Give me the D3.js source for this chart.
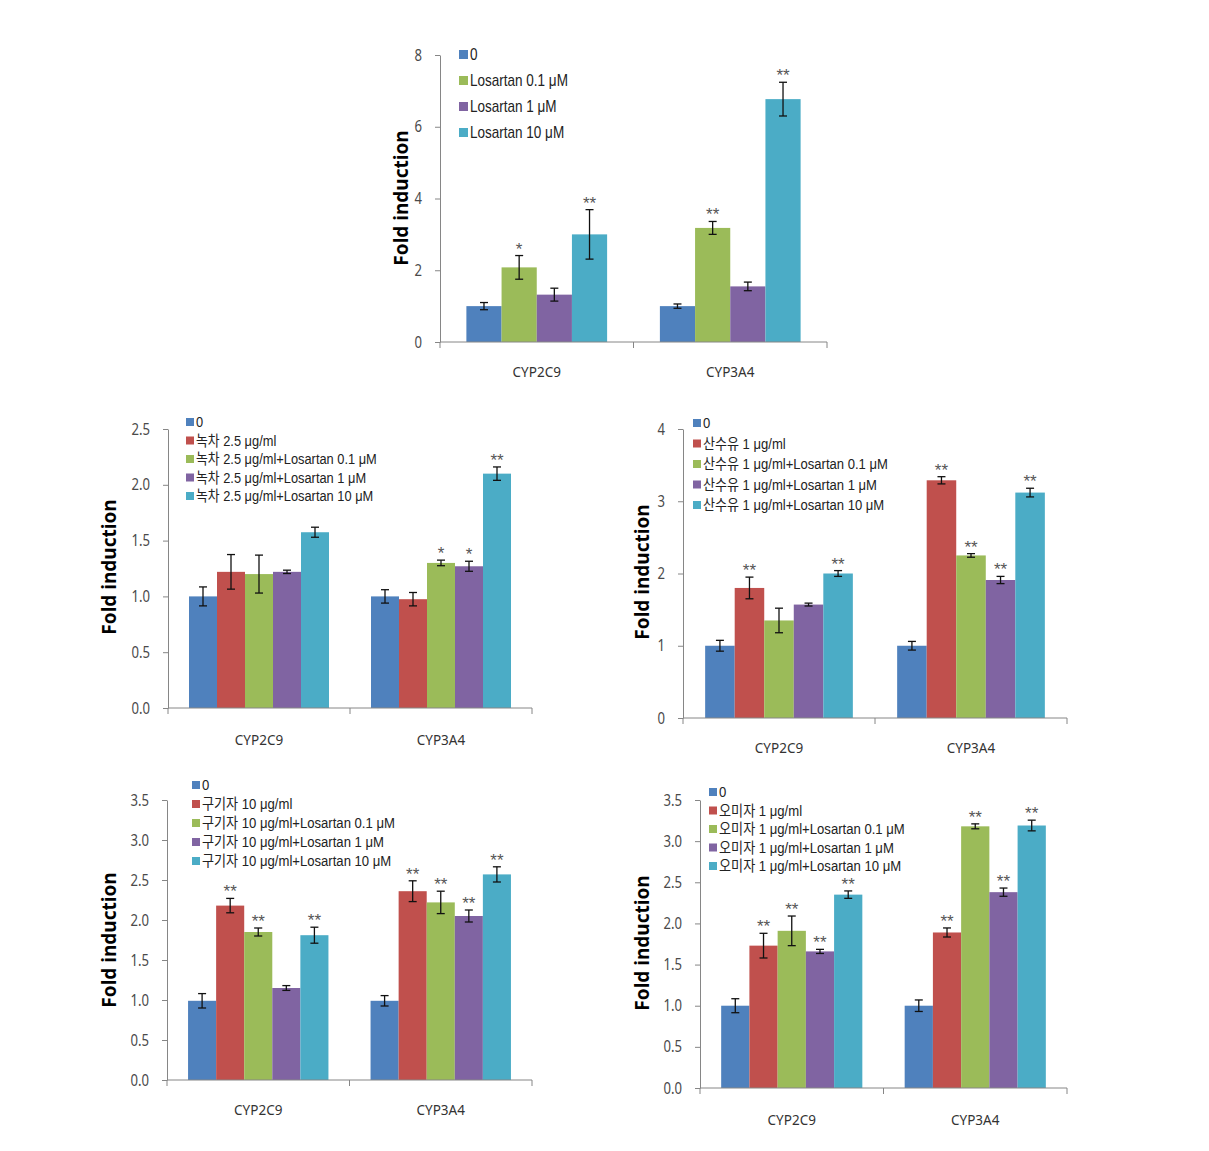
<!DOCTYPE html>
<html><head><meta charset="utf-8">
<script src="https://cdn.jsdelivr.net/npm/d3@7"></script>
<style>body{margin:0;background:#fff}</style>
</head><body><svg id="c" width="1209" height="1151"></svg>
<script>
const categories = ["CYP2C9", "CYP3A4"];
const palette = ["#4F81BD", "#C0504D", "#9BBB59", "#8064A2", "#4BACC6"];
const yAxisTitle = "Fold induction";

// Panel A: Losartan alone
const seriesA = ["0", "Losartan 0.1 μM", "Losartan 1 μM", "Losartan 10 μM"];
const colorIdxA = [0, 2, 3, 4];
const valuesA = [[1.00, 2.08, 1.32, 3.00], [1.00, 3.18, 1.55, 6.77]];
const errorsA = [[0.10, 0.33, 0.18, 0.69], [0.06, 0.18, 0.12, 0.47]];
const sigA = [["", "*", "", "**"], ["", "**", "", "**"]];
const ticksA = [0, 2, 4, 6, 8];

// Panel B: 녹차
const seriesB = ["0", "녹차 2.5 μg/ml", "녹차 2.5 μg/ml+Losartan 0.1 μM", "녹차 2.5 μg/ml+Losartan 1 μM", "녹차 2.5 μg/ml+Losartan 10 μM"];
const valuesB = [[1.00, 1.22, 1.20, 1.22, 1.575], [1.00, 0.975, 1.30, 1.27, 2.10]];
const errorsB = [[0.085, 0.155, 0.17, 0.015, 0.045], [0.06, 0.06, 0.025, 0.045, 0.06]];
const sigB = [["", "", "", "", ""], ["", "", "*", "*", "**"]];
const ticksB = [0, 0.5, 1.0, 1.5, 2.0, 2.5];

// Panel C: 산수유
const seriesC = ["0", "산수유 1 μg/ml", "산수유 1 μg/ml+Losartan 0.1 μM", "산수유 1 μg/ml+Losartan 1 μM", "산수유 1 μg/ml+Losartan 10 μM"];
const valuesC = [[1.00, 1.80, 1.35, 1.57, 2.00], [1.00, 3.29, 2.25, 1.91, 3.12]];
const errorsC = [[0.075, 0.15, 0.17, 0.02, 0.04], [0.06, 0.05, 0.025, 0.05, 0.06]];
const sigC = [["", "**", "", "", "**"], ["", "**", "**", "**", "**"]];
const ticksC = [0, 1, 2, 3, 4];

// Panel D: 구기자
const seriesD = ["0", "구기자 10 μg/ml", "구기자 10 μg/ml+Losartan 0.1 μM", "구기자 10 μg/ml+Losartan 1 μM", "구기자 10 μg/ml+Losartan 10 μM"];
const valuesD = [[0.99, 2.18, 1.85, 1.15, 1.81], [0.99, 2.36, 2.22, 2.05, 2.57]];
const errorsD = [[0.09, 0.09, 0.05, 0.03, 0.10], [0.065, 0.13, 0.14, 0.075, 0.095]];
const sigD = [["", "**", "**", "", "**"], ["", "**", "**", "**", "**"]];
const ticksD = [0, 0.5, 1.0, 1.5, 2.0, 2.5, 3.0, 3.5];

// Panel E: 오미자
const seriesE = ["0", "오미자 1 μg/ml", "오미자 1 μg/ml+Losartan 0.1 μM", "오미자 1 μg/ml+Losartan 1 μM", "오미자 1 μg/ml+Losartan 10 μM"];
const valuesE = [[1.00, 1.73, 1.91, 1.66, 2.35], [1.00, 1.89, 3.18, 2.38, 3.19]];
const errorsE = [[0.085, 0.15, 0.18, 0.025, 0.045], [0.07, 0.055, 0.03, 0.05, 0.065]];
const sigE = [["", "**", "**", "**", "**"], ["", "**", "**", "**", "**"]];
const ticksE = [0, 0.5, 1.0, 1.5, 2.0, 2.5, 3.0, 3.5];

const svg = d3.select("#c");

function squeeze(sel, k) {
  sel.each(function () {
    const w = this.getComputedTextLength();
    d3.select(this).attr("textLength", w * k).attr("lengthAdjust", "spacingAndGlyphs");
  });
}

function drawPanel(p, d) {
  const g = svg.append("g");
  const x0 = d3.scaleBand().domain(categories).range([p.x0, p.x1]).padding(0);
  const n = d.series.length;
  const gap = x0.bandwidth() * 1.5 / (n + 1.5) / 2;
  const x1 = d3.scaleBand().domain(d3.range(n)).range([gap, x0.bandwidth() - gap]).padding(0);
  const y = d3.scaleLinear().domain([0, d.ticks[d.ticks.length - 1]]).range([p.yBot, p.yTop]);

  categories.forEach((c, ci) => {
    const rows = d.values[ci].map((v, si) => ({ v, e: d.errors[ci][si], s: d.sig[ci][si], si }));
    const grp = g.append("g").attr("transform", `translate(${x0(c)},0)`);
    grp.selectAll("rect").data(rows).join("rect")
      .attr("x", r => x1(r.si)).attr("width", x1.bandwidth())
      .attr("y", r => y(r.v)).attr("height", r => y(0) - y(r.v))
      .attr("fill", r => palette[d.colorIdx[r.si]]);
    const cx = r => x1(r.si) + x1.bandwidth() / 2;
    grp.selectAll("line.eb").data(rows).join("line").attr("class", "eb")
      .attr("x1", cx).attr("x2", cx).attr("y1", r => y(r.v + r.e)).attr("y2", r => y(r.v - r.e))
      .attr("stroke", "#111").attr("stroke-width", 1.3);
    ["t", "b"].forEach(k => {
      grp.selectAll("line.cap" + k).data(rows).join("line")
        .attr("class", "cap" + k)
        .attr("x1", r => cx(r) - 4).attr("x2", r => cx(r) + 4)
        .attr("y1", r => y(k === "t" ? r.v + r.e : r.v - r.e))
        .attr("y2", r => y(k === "t" ? r.v + r.e : r.v - r.e))
        .attr("stroke", "#111").attr("stroke-width", 1.3);
    });
    grp.selectAll("text.sig").data(rows.filter(r => r.s)).join("text").attr("class", "sig")
      .attr("x", cx).attr("y", r => y(r.v + r.e) - 1)
      .attr("text-anchor", "middle").attr("font-family", "Liberation Sans, Arial, sans-serif")
      .attr("font-size", 17).attr("fill", "#555").text(r => r.s);
  });

  const ya = g.append("g").attr("transform", `translate(${p.x0},0)`)
    .call(d3.axisLeft(y).tickValues(d.ticks).tickFormat(d3.format(p.fmt)).tickSize(5).tickPadding(13).tickSizeOuter(0));
  ya.select(".domain").attr("stroke", "#868686");
  ya.selectAll(".tick line").attr("stroke", "#868686");
  ya.selectAll(".tick text").attr("font-family", "Noto Sans, sans-serif").attr("font-size", 16)
    .attr("fill", "#4a4a4a").call(squeeze, 0.82);

  const xa = g.append("g").attr("transform", `translate(0,${p.yBot})`);
  xa.append("line").attr("x1", p.x0).attr("x2", p.x1).attr("y1", 0).attr("y2", 0).attr("stroke", "#868686");
  const bounds = [p.x0, ...categories.map(c => x0(c) + x0.bandwidth())];
  xa.selectAll("line.t").data(bounds).join("line").attr("class", "t")
    .attr("x1", v => v).attr("x2", v => v).attr("y1", 0).attr("y2", 6).attr("stroke", "#868686");
  xa.selectAll("text").data(categories).join("text")
    .attr("x", c => x0(c) + x0.bandwidth() / 2).attr("y", p.catY - p.yBot + 5)
    .attr("text-anchor", "middle").attr("font-family", "Noto Sans, sans-serif")
    .attr("font-size", 15).attr("fill", "#333").text(c => c).call(squeeze, 0.9);

  g.append("text").attr("transform", `translate(${p.titleX + 6},${p.titleY}) rotate(-90)`)
    .attr("text-anchor", "middle").attr("font-family", "Noto Sans, sans-serif").attr("font-weight", "bold")
    .attr("font-size", 19).attr("fill", "#000").text(yAxisTitle);

  // legend: text scaled horizontally so the longest entry matches the original's width
  const lg = g.append("g").attr("transform", `translate(${p.lx},${p.ly})`);
  const items = lg.selectAll("g.item").data(d.series).join("g").attr("class", "item")
    .attr("transform", (s, i) => `translate(0,${i * p.lsp})`);
  items.append("rect").attr("x", 0).attr("y", -3).attr("width", p.lsq).attr("height", p.lsq)
    .attr("fill", (s, i) => palette[d.colorIdx[i]]);
  const tg = items.append("g").attr("transform", `translate(${p.lsq + 2},${p.lsq - 2})`);
  const texts = tg.append("text").attr("x", 0).attr("y", 0)
    .attr("font-family", "Liberation Sans, Noto Sans CJK KR, sans-serif").attr("font-size", p.lfs)
    .attr("fill", "#222").text(s => s);
  let maxW = 0;
  texts.each(function () { maxW = Math.max(maxW, this.getComputedTextLength()); });
  const k = p.lw / maxW;
  tg.attr("transform", `translate(${p.lsq + 2},${p.lsq - 2}) scale(${k},1)`);
}

drawPanel({ x0: 440, x1: 827, yTop: 55, yBot: 342, fmt: "d", catY: 372, titleX: 402, titleY: 198, lx: 459, ly: 53, lsp: 26, lsq: 9, lfs: 16, lw: 98 },
  { series: seriesA, colorIdx: colorIdxA, values: valuesA, errors: errorsA, sig: sigA, ticks: ticksA });
drawPanel({ x0: 168, x1: 532, yTop: 429, yBot: 708, fmt: ".1f", catY: 740, titleX: 110, titleY: 567, lx: 186, ly: 421, lsp: 18.5, lsq: 8, lfs: 15, lw: 181 },
  { series: seriesB, colorIdx: [0, 1, 2, 3, 4], values: valuesB, errors: errorsB, sig: sigB, ticks: ticksB });
drawPanel({ x0: 683, x1: 1067, yTop: 429, yBot: 718, fmt: "d", catY: 748, titleX: 643, titleY: 572, lx: 693, ly: 422, lsp: 20.5, lsq: 8, lfs: 15, lw: 185 },
  { series: seriesC, colorIdx: [0, 1, 2, 3, 4], values: valuesC, errors: errorsC, sig: sigC, ticks: ticksC });
drawPanel({ x0: 167, x1: 532, yTop: 800, yBot: 1080, fmt: ".1f", catY: 1110, titleX: 110, titleY: 940, lx: 192, ly: 784, lsp: 19, lsq: 8, lfs: 15, lw: 193 },
  { series: seriesD, colorIdx: [0, 1, 2, 3, 4], values: valuesD, errors: errorsD, sig: sigD, ticks: ticksD });
drawPanel({ x0: 700, x1: 1067, yTop: 800, yBot: 1088, fmt: ".1f", catY: 1120, titleX: 643, titleY: 943, lx: 709, ly: 791, lsp: 18.5, lsq: 8, lfs: 15, lw: 186 },
  { series: seriesE, colorIdx: [0, 1, 2, 3, 4], values: valuesE, errors: errorsE, sig: sigE, ticks: ticksE });
</script>
</body></html>
